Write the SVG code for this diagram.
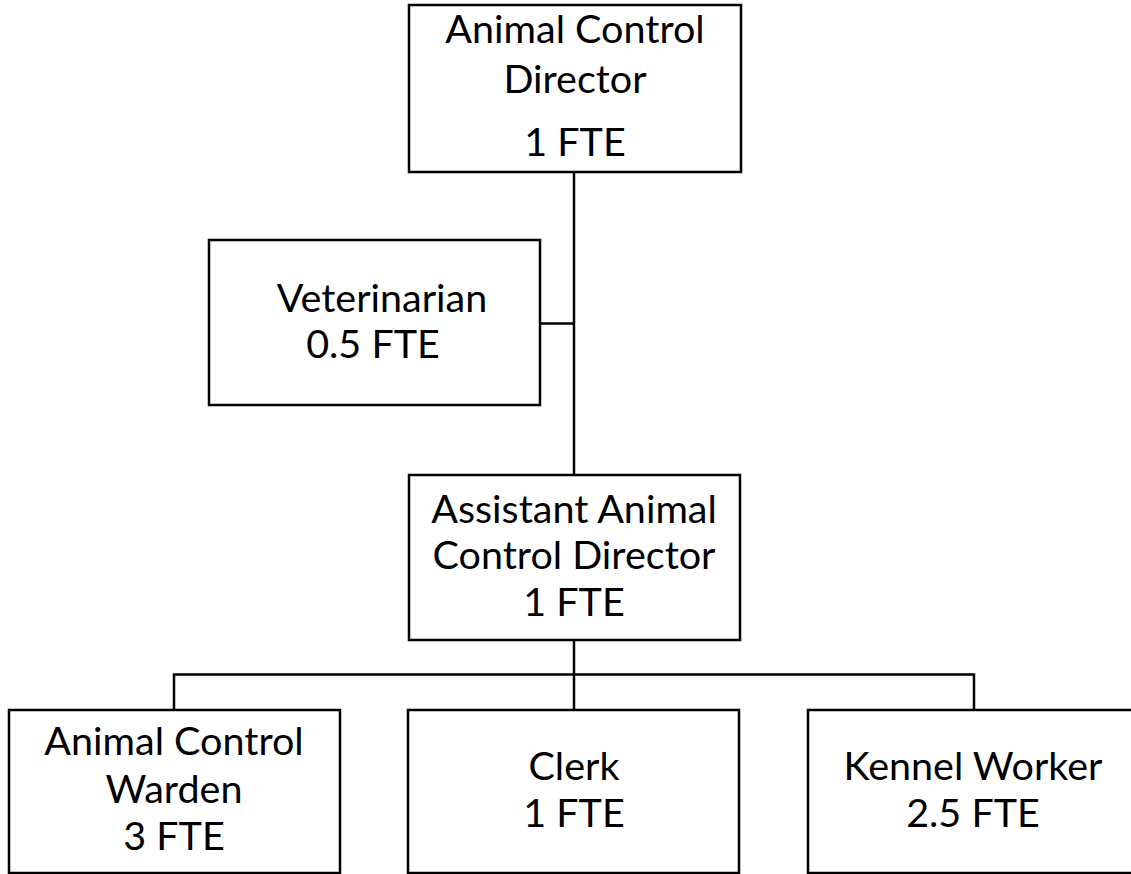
<svg xmlns="http://www.w3.org/2000/svg" width="1131" height="874" viewBox="0 0 1131 874">
<style>
.box{fill:#fff;stroke:#000;stroke-width:2.5}
.ln{stroke:#000;stroke-width:2.5;fill:none}
text{font-family:Lato,"Open Sans","Liberation Sans",sans-serif;font-size:39.5px;fill:#000;text-anchor:middle}
</style>
<rect width="1131" height="874" fill="#fff"/>
<g id="connectors">
<line class="ln" x1="574" y1="172" x2="574" y2="475"/>
<line class="ln" x1="540" y1="323.5" x2="574" y2="323.5"/>
<line class="ln" x1="574" y1="640" x2="574" y2="710"/>
<polyline class="ln" points="174,710 174,674.5 974,674.5 974,710"/>
</g>
<g id="director">
<rect class="box" x="409" y="5" width="332" height="167"/>
<text x="575" y="43">Animal Control</text>
<text x="575" y="93">Director</text>
<text x="575" y="156">1 FTE</text>
</g>
<g id="veterinarian">
<rect class="box" x="209" y="240" width="331" height="165"/>
<text x="382" y="312">Veterinarian</text>
<text x="373" y="358">0.5 FTE</text>
</g>
<g id="assistant">
<rect class="box" x="409" y="475" width="331" height="165"/>
<text x="574" y="523">Assistant Animal</text>
<text x="574" y="569">Control Director</text>
<text x="574" y="616">1 FTE</text>
</g>
<g id="warden">
<rect class="box" x="9" y="710" width="331" height="163"/>
<text x="174" y="755">Animal Control</text>
<text x="174" y="803">Warden</text>
<text x="174" y="850">3 FTE</text>
</g>
<g id="clerk">
<rect class="box" x="408" y="710" width="331" height="163"/>
<text x="574" y="780">Clerk</text>
<text x="574" y="827">1 FTE</text>
</g>
<g id="kennel">
<rect class="box" x="808" y="710" width="332" height="163"/>
<text x="973" y="780">Kennel Worker</text>
<text x="973" y="827">2.5 FTE</text>
</g>
</svg>
